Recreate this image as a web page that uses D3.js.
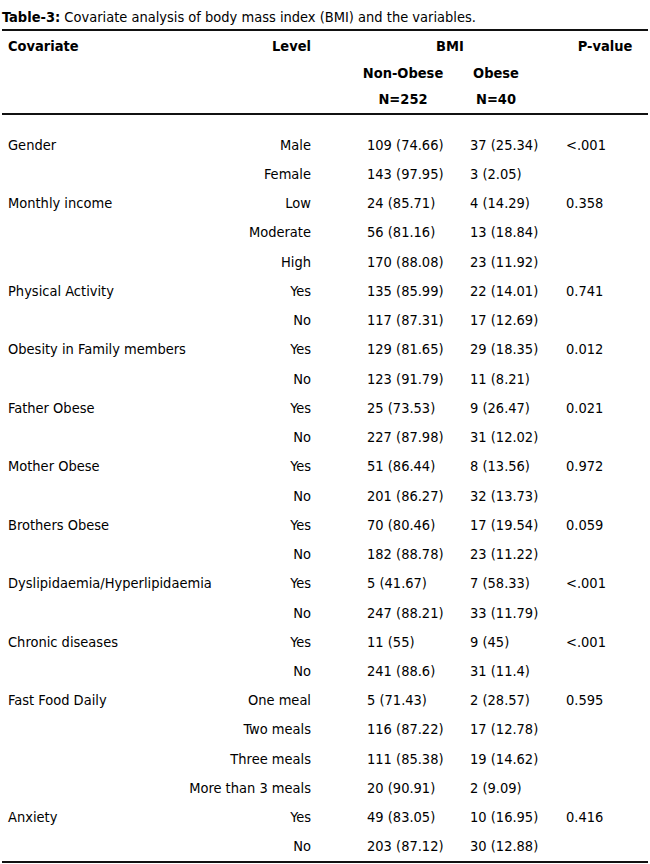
<!DOCTYPE html>
<html lang="en">
<head>
<meta charset="UTF-8">
<script src="https://cdn.jsdelivr.net/npm/d3@7"></script>
<style>
  body { margin: 0; background: #fff; }
  svg { font-family: "DejaVu Sans Condensed", "DejaVu Sans", sans-serif; font-size: 14.5px; }
</style>
</head>
<body>
<div id="chart"></div>
<script>
// one entry per covariate group
const covariates = ["Gender", "Monthly income", "Physical Activity", "Obesity in Family members",
  "Father Obese", "Mother Obese", "Brothers Obese", "Dyslipidaemia/Hyperlipidaemia",
  "Chronic diseases", "Fast Food Daily", "Anxiety"];
const pValues = ["<.001", "0.358", "0.741", "0.012", "0.021", "0.972", "0.059", "<.001", "<.001", "0.595", "0.416"];
const levels = [
  ["Male", "Female"],
  ["Low", "Moderate", "High"],
  ["Yes", "No"], ["Yes", "No"], ["Yes", "No"], ["Yes", "No"], ["Yes", "No"], ["Yes", "No"], ["Yes", "No"],
  ["One meal", "Two meals", "Three meals", "More than 3 meals"],
  ["Yes", "No"]
];
const nonObese = [
  ["109 (74.66)", "143 (97.95)"],
  ["24 (85.71)", "56 (81.16)", "170 (88.08)"],
  ["135 (85.99)", "117 (87.31)"],
  ["129 (81.65)", "123 (91.79)"],
  ["25 (73.53)", "227 (87.98)"],
  ["51 (86.44)", "201 (86.27)"],
  ["70 (80.46)", "182 (88.78)"],
  ["5 (41.67)", "247 (88.21)"],
  ["11 (55)", "241 (88.6)"],
  ["5 (71.43)", "116 (87.22)", "111 (85.38)", "20 (90.91)"],
  ["49 (83.05)", "203 (87.12)"]
];
const obese = [
  ["37 (25.34)", "3 (2.05)"],
  ["4 (14.29)", "13 (18.84)", "23 (11.92)"],
  ["22 (14.01)", "17 (12.69)"],
  ["29 (18.35)", "11 (8.21)"],
  ["9 (26.47)", "31 (12.02)"],
  ["8 (13.56)", "32 (13.73)"],
  ["17 (19.54)", "23 (11.22)"],
  ["7 (58.33)", "33 (11.79)"],
  ["9 (45)", "31 (11.4)"],
  ["2 (28.57)", "17 (12.78)", "19 (14.62)", "2 (9.09)"],
  ["10 (16.95)", "30 (12.88)"]
];

const width = 650, height = 864;

// flatten into rows
const rows = [];
covariates.forEach((c, i) => {
  levels[i].forEach((l, j) => {
    rows.push({
      covariate: j === 0 ? c : "",
      level: l,
      non: nonObese[i][j],
      ob: obese[i][j],
      p: j === 0 ? pValues[i] : ""
    });
  });
});

const svg = d3.select("#chart").append("svg")
  .attr("width", width).attr("height", height)
  .attr("viewBox", [0, 0, width, height]);

const y = d3.scaleBand().domain(d3.range(rows.length)).range([130, 861]);

// title
const title = svg.append("text").attr("x", 2).attr("y", 22);
title.append("tspan").attr("font-weight", "bold").text("Table-3:");
title.append("tspan").text(" Covariate analysis of body mass index (BMI) and the variables.");

// rules
[30, 114, 862].forEach(yy => {
  svg.append("line").attr("x1", 2).attr("x2", width - 2)
    .attr("y1", yy).attr("y2", yy)
    .attr("stroke", "#111").attr("stroke-width", 2);
});

// header
const head = svg.append("g").attr("font-weight", "bold");
const hdr = [
  ["Covariate", 8, 51, "start"],
  ["Level", 311, 51, "end"],
  ["BMI", 450, 51, "middle"],
  ["P-value", 605, 51, "middle"],
  ["Non-Obese", 403, 78, "middle"],
  ["N=252", 403, 104, "middle"],
  ["Obese", 496, 78, "middle"],
  ["N=40", 496, 104, "middle"]
];
head.selectAll("text").data(hdr).join("text")
  .attr("x", d => d[1]).attr("y", d => d[2])
  .attr("text-anchor", d => d[3]).text(d => d[0]);

// body rows
const row = svg.append("g").selectAll("g").data(rows).join("g")
  .attr("transform", (d, i) => `translate(0,${y(i) + y.bandwidth() / 2})`);
row.append("text").attr("x", 8).attr("dy", "0.35em").text(d => d.covariate);
row.append("text").attr("x", 311).attr("dy", "0.35em").attr("text-anchor", "end").text(d => d.level);
row.append("text").attr("x", 367).attr("dy", "0.35em").text(d => d.non);
row.append("text").attr("x", 470).attr("dy", "0.35em").text(d => d.ob);
row.append("text").attr("x", 566).attr("dy", "0.35em").text(d => d.p);
</script>
</body>
</html>
